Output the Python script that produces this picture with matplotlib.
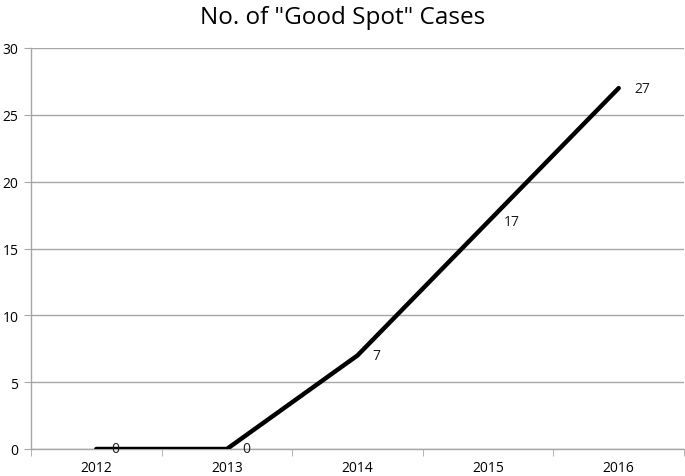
import matplotlib
matplotlib.use("Agg")
import matplotlib.pyplot as plt
from matplotlib.ticker import FixedLocator, NullFormatter

years = ["2012", "2013", "2014", "2015", "2016"]
cases = [0, 0, 7, 17, 27]
yticks = [0, 5, 10, 15, 20, 25, 30]
title = 'No. of "Good Spot" Cases'

plt.rcParams['font.family'] = ['Open Sans', 'DejaVu Sans']

fig = plt.figure(figsize=(6.85, 4.77), dpi=100)
ax = fig.add_axes([31/685, 27/477, 653/685, 401/477])

x = list(range(len(years)))
ax.plot(x, cases, color='black', linewidth=3.2, solid_capstyle='round', solid_joinstyle='miter', zorder=3)

for xi, v in zip(x, cases):
    ax.annotate(str(v), (xi, v), xytext=(11, 0), textcoords='offset points',
                ha='left', va='center', fontsize=10, color='#1a1a1a', zorder=4)

ax.set_xlim(-0.5, len(years) - 0.5)
ax.set_ylim(0, 30)
ax.set_yticks(yticks)
ax.set_yticklabels([str(t) for t in yticks], fontsize=10)
ax.yaxis.grid(True, color='#a6a6a6', linewidth=1.0)
ax.set_axisbelow(True)

ax.set_xticks(x)
ax.set_xticklabels(years, fontsize=10)
ax.tick_params(axis='x', which='major', length=0, pad=8)
ax.xaxis.set_minor_locator(FixedLocator([i - 0.5 for i in range(len(years) + 1)]))
ax.xaxis.set_minor_formatter(NullFormatter())
ax.tick_params(axis='x', which='minor', length=5, color='#a6a6a6', direction='out')
ax.tick_params(axis='y', length=5, color='#a6a6a6', direction='out', pad=4)

for s in ['top', 'right']:
    ax.spines[s].set_visible(False)
for s in ['left', 'bottom']:
    ax.spines[s].set_color('#a6a6a6')
    ax.spines[s].set_linewidth(1.0)

fig.text(0.5, 1 - 18/477, title, ha='center', va='center', fontsize=17.5, color='black')

fig.savefig('out.png', dpi=100)
